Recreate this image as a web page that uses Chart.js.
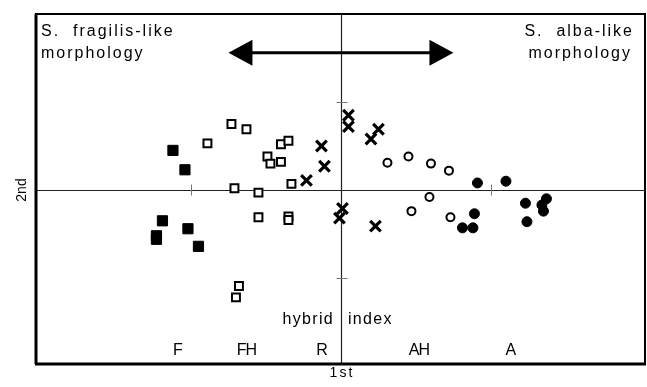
<!DOCTYPE html>
<html>
<head>
<meta charset="utf-8">
<script src="https://cdn.jsdelivr.net/npm/chart.js@4.4.0/dist/chart.umd.min.js"></script>
<style>
  html, body { margin: 0; padding: 0; background: #fff; }
  canvas { display: block; }
</style>
</head>
<body>
<canvas id="myChart" width="647" height="387"></canvas>
<script>
// labels of the groups along the hybrid index (1st axis)
var groupLabels = ['F', 'FH', 'R', 'AH', 'A'];
var groupLabelX = [-1.09, -0.63, -0.13, 0.52, 1.13];

// F : S. fragilis (filled squares)
var fX = [-1.12, -1.04, -1.19, -1.23, -1.23, -1.02, -0.95];
var fY = [0.45, 0.23, -0.35, -0.52, -0.56, -0.44, -0.64];

// FH : fragilis-like hybrids (open squares)
var fhX = [-0.89, -0.73, -0.63, -0.40, -0.35, -0.49, -0.47, -0.40, -0.33, -0.71, -0.55, -0.55, -0.35, -0.35, -0.68, -0.70];
var fhY = [0.53, 0.75, 0.69, 0.52, 0.56, 0.38, 0.30, 0.32, 0.07, 0.02, -0.03, -0.31, -0.30, -0.34, -1.09, -1.22];

// R : hybrids (crosses)
var rX = [-0.13, -0.11, -0.23, 0.05, 0.05, 0.25, 0.20, 0.01, -0.01, 0.23];
var rY = [0.50, 0.27, 0.11, 0.85, 0.72, 0.69, 0.58, -0.21, -0.32, -0.41];

// AH : alba-like hybrids (open circles)
var ahX = [0.31, 0.45, 0.60, 0.72, 0.59, 0.47, 0.73];
var ahY = [0.31, 0.38, 0.30, 0.22, -0.08, -0.24, -0.31];

// A : S. alba (filled circles)
var aX = [0.91, 1.10, 0.89, 0.81, 0.88, 1.23, 1.24, 1.37, 1.34, 1.35];
var aY = [0.08, 0.10, -0.27, -0.43, -0.43, -0.15, -0.36, -0.10, -0.17, -0.24];

function pts(xs, ys) {
  return xs.map(function(v, i) { return { x: v, y: ys[i] }; });
}

var FONT = '"Liberation Sans", Arial, Helvetica, sans-serif';

// crosshair, frame, arrow and texts
var decor = {
  id: 'decor',
  beforeDatasetsDraw: function(chart) {
    var c = chart.ctx, a = chart.chartArea;
    var sx = chart.scales.x, sy = chart.scales.y;
    var x0 = Math.round(sx.getPixelForValue(0)) + 0.5;
    var y0 = Math.round(sy.getPixelForValue(0)) + 0.5;
    c.save();
    c.strokeStyle = '#222';
    c.lineWidth = 1.2;
    c.beginPath();
    c.moveTo(a.left, y0); c.lineTo(a.right, y0);
    c.moveTo(x0, a.top); c.lineTo(x0, a.bottom);
    c.stroke();
    // small ticks at +-1
    c.strokeStyle = '#777';
    c.lineWidth = 1;
    c.beginPath();
    [-1, 1].forEach(function(v) {
      var px = Math.round(sx.getPixelForValue(v)) + 0.5;
      c.moveTo(px, y0 - 6); c.lineTo(px, y0 + 5);
      var py = Math.round(sy.getPixelForValue(v)) + 0.5;
      c.moveTo(x0 - 5, py); c.lineTo(x0 + 6, py);
    });
    c.stroke();
    c.restore();
  },
  afterDatasetsDraw: function(chart) {
    var c = chart.ctx, a = chart.chartArea;
    var sx = chart.scales.x, sy = chart.scales.y;
    var x0 = sx.getPixelForValue(0);
    c.save();
    // frame
    c.strokeStyle = '#000';
    c.lineWidth = 2;
    c.strokeRect(a.left, a.top, a.right - a.left, a.bottom - a.top);
    c.lineWidth = 3;
    c.beginPath();
    c.moveTo(a.left - 1, a.bottom); c.lineTo(a.right + 1, a.bottom);
    c.moveTo(a.left, a.top); c.lineTo(a.left, a.bottom);
    c.stroke();

    // double arrow
    var ay = sy.getPixelForValue(1.56);
    var xl = sx.getPixelForValue(-0.75), xr = sx.getPixelForValue(0.75);
    c.lineWidth = 3;
    c.beginPath();
    c.moveTo(xl + 20, ay); c.lineTo(xr - 20, ay);
    c.stroke();
    c.fillStyle = '#000';
    c.beginPath();
    c.moveTo(xl, ay); c.lineTo(xl + 24, ay - 13); c.lineTo(xl + 24, ay + 13); c.closePath();
    c.moveTo(xr, ay); c.lineTo(xr - 24, ay - 13); c.lineTo(xr - 24, ay + 13); c.closePath();
    c.fill();

    // corner texts
    c.font = '16px ' + FONT;
    c.letterSpacing = '2px';
    c.textBaseline = 'alphabetic';
    c.textAlign = 'left';
    c.fillText('S.  fragilis-like', a.left + 5, a.top + 22);
    c.fillText('morphology', a.left + 5, a.top + 44);
    c.textAlign = 'right';
    c.fillText('S.  alba-like', a.right - 11, a.top + 22);
    c.fillText('morphology', a.right - 13, a.top + 44);

    // hybrid index
    c.letterSpacing = '1.3px';
    var hy = sy.getPixelForValue(-1.52);
    c.textAlign = 'right';
    c.fillText('hybrid', x0 - 7, hy);
    c.textAlign = 'left';
    c.fillText('index', x0 + 7, hy);

    // group labels
    c.letterSpacing = '-1px';
    c.textAlign = 'center';
    var gy = sy.getPixelForValue(-1.875);
    groupLabels.forEach(function(t, i) {
      c.fillText(t, sx.getPixelForValue(groupLabelX[i]), gy);
    });

    // axis names
    c.font = '14px ' + FONT;
    c.letterSpacing = '2px';
    c.textBaseline = 'middle';
    c.fillText('1st', x0 + 1, a.bottom + 9);
    c.save();
    c.translate(a.left - 14, sy.getPixelForValue(0));
    c.rotate(-Math.PI / 2);
    c.letterSpacing = '0px';
    c.fillText('2nd', 0, 0);
    c.restore();
    c.restore();
  }
};

var ctx = document.getElementById('myChart').getContext('2d');

var myChart = new Chart(ctx, {
  type: 'scatter',
  data: {
    datasets: [{
      label: 'F',
      data: pts(fX, fY),
      pointStyle: 'rect',
      pointRadius: 7.2,
      pointBackgroundColor: '#000',
      pointBorderColor: '#000',
      pointBorderWidth: 1
    }, {
      label: 'FH',
      data: pts(fhX, fhY),
      pointStyle: 'rect',
      pointRadius: 5.6,
      pointBackgroundColor: '#fff',
      pointBorderColor: '#000',
      pointBorderWidth: 2
    }, {
      label: 'R',
      data: pts(rX, rY),
      pointStyle: 'crossRot',
      pointRadius: 7.5,
      pointBorderColor: '#000',
      pointBorderWidth: 3.2
    }, {
      label: 'AH',
      data: pts(ahX, ahY),
      pointStyle: 'circle',
      pointRadius: 4,
      pointBackgroundColor: '#fff',
      pointBorderColor: '#000',
      pointBorderWidth: 2
    }, {
      label: 'A',
      data: pts(aX, aY),
      pointStyle: 'circle',
      pointRadius: 5,
      pointBackgroundColor: '#000',
      pointBorderColor: '#000',
      pointBorderWidth: 1
    }]
  },
  options: {
    responsive: false,
    animation: false,
    layout: {
      autoPadding: false,
      padding: { left: 36, right: 2, top: 14, bottom: 23 }
    },
    plugins: {
      legend: { display: false },
      tooltip: { enabled: false }
    },
    scales: {
      x: { type: 'linear', min: -2.033, max: 2.027, display: false },
      y: { type: 'linear', min: -1.977, max: 2.0, display: false }
    }
  },
  plugins: [decor]
});
</script>
</body>
</html>
